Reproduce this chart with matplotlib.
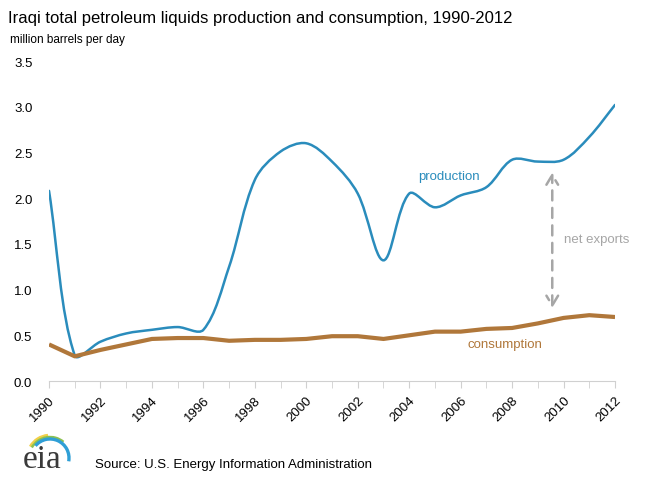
import numpy as np
import matplotlib
matplotlib.use("Agg")
import matplotlib.pyplot as plt
from matplotlib.path import Path
from matplotlib.patches import PathPatch, Arc

plt.rcParams['font.family'] = ['Liberation Sans', 'DejaVu Sans']

years = list(range(1990, 2013))
production = [2.08, 0.28, 0.43, 0.52, 0.56, 0.59, 0.56, 1.25, 2.20, 2.51, 2.60,
              2.40, 2.05, 1.32, 2.05, 1.90, 2.03, 2.12, 2.42, 2.40, 2.42, 2.67, 3.02]
consumption = [0.40, 0.27, 0.34, 0.40, 0.46, 0.47, 0.47, 0.44, 0.45, 0.45, 0.46,
               0.49, 0.49, 0.46, 0.50, 0.54, 0.54, 0.57, 0.58, 0.63, 0.69, 0.72, 0.70]
xtick_years = list(range(1990, 2013, 2))

blue = '#2a8cbc'
brown = '#b0773a'
grey = '#a6a6a6'


def smooth_path(x, y, sx=25.7, sy=91.4):
    # Excel-style smoothed line: bezier segments, tangents weighted by
    # the on-screen length of the neighbouring segments
    pts = np.column_stack([np.asarray(x, float), np.asarray(y, float)])
    scr = pts * [sx, sy]
    n = len(pts)
    seg = np.hypot(*np.diff(scr, axis=0).T)
    verts = [pts[0]]
    codes = [Path.MOVETO]
    for i in range(n - 1):
        p0 = pts[i - 1] if i > 0 else pts[i]
        p1 = pts[i]
        p2 = pts[i + 1]
        p3 = pts[i + 2] if i + 2 < n else pts[i + 1]
        l01 = seg[i - 1] if i > 0 else 0.0
        l12 = seg[i]
        l23 = seg[i + 1] if i + 2 < n else 0.0
        c1 = p1 + (p2 - p0) * l12 / (l01 + l12) / 3.0
        c2 = p2 - (p3 - p1) * l12 / (l12 + l23) / 3.0
        verts += [c1, c2, p2]
        codes += [Path.CURVE4] * 3
    return Path(verts, codes)


fig = plt.figure(figsize=(6.58, 4.89), dpi=100)
ax = fig.add_axes([0.0745, 0.2188, 0.8602, 0.6544])

ax.add_patch(PathPatch(smooth_path(years, production), facecolor='none',
                       edgecolor=blue, lw=1.8, capstyle='round'))
ax.plot(years, consumption, color=brown, lw=3, solid_capstyle='butt')

ax.set_xlim(1990, 2012)
ax.set_ylim(0, 3.5)
ax.set_yticks(np.arange(0, 3.51, 0.5))
ax.set_yticklabels([f'{v:.1f}' for v in np.arange(0, 3.51, 0.5)], fontsize=9.5)
ax.set_xticks(xtick_years)
ax.set_xticklabels([str(y) for y in xtick_years], rotation=45, fontsize=9.5,
                   ha='right', va='top', rotation_mode='anchor')
ax.set_xticks(years, minor=True)
ax.tick_params(axis='y', length=0, pad=12)
ax.tick_params(axis='x', which='both', direction='out', length=5,
               color='#d0d0d0', pad=4)
for s in ['top', 'right', 'left']:
    ax.spines[s].set_visible(False)
ax.spines['bottom'].set_color('#d0d0d0')

# labels and net exports arrow
ax.text(2004.36, 2.24, 'production', color=blue, fontsize=9.5, va='center')
ax.text(2006.26, 0.41, 'consumption', color=brown, fontsize=9.5, va='center')
ax.text(2010.0, 1.55, 'net exports', color=grey, fontsize=9.5, va='center')
ax.annotate('', xy=(2009.56, 2.31), xytext=(2009.56, 0.77),
            arrowprops=dict(arrowstyle='<->,head_length=0.5,head_width=0.3',
                            color=grey, lw=1.8,
                            linestyle=(0, (4, 3)), mutation_scale=14))

fig.text(0.012, 0.962, 'Iraqi total petroleum liquids production and consumption, 1990-2012',
         fontsize=12, va='center', ha='left')
fig.text(0.015, 0.918, 'million barrels per day', fontsize=8.5, va='center',
         ha='left')
fig.text(0.145, 0.050, 'Source: U.S. Energy Information Administration',
         fontsize=9.5, va='center', ha='left')

# eia logo, drawn in a small pixel-coordinate axes
lax = fig.add_axes([15 / 658, 10 / 489, 60 / 658, 60 / 489])
lax.set_xlim(15, 75)
lax.set_ylim(10, 70)
lax.axis('off')
lax.text(23, 21, 'eia', family='Liberation Serif', fontsize=24,
         color='#3a3a3a', va='baseline', ha='left')
for r, c, lw, t1, t2 in [(23, '#f2d048', 1.8, 95, 150),
                         (21, '#8dc152', 1.8, 50, 150),
                         (19, '#2f9fd6', 2.4, -10, 140)]:
    lax.add_patch(Arc((50, 30), 2 * r, 2 * r, theta1=t1, theta2=t2,
                      color=c, lw=lw))

fig.savefig('out.png', dpi=100)
